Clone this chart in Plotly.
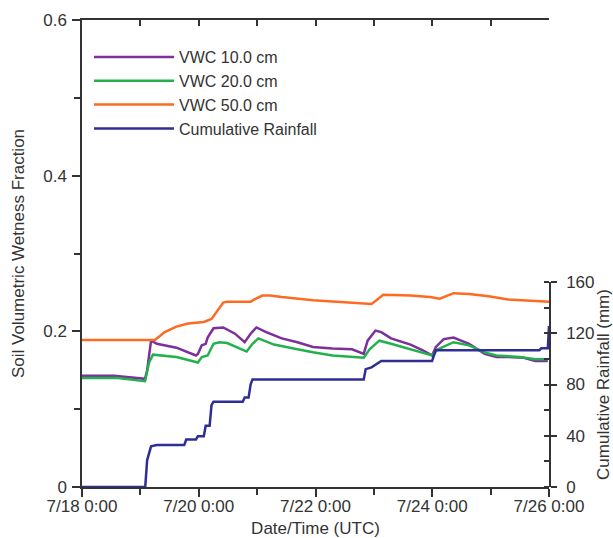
import pandas as pd
import plotly.graph_objects as go

START = "2019-07-18 00:00"

# days since 7/18 0:00 and values
vwc10_days = [0, 0.548, 1.08, 1.116, 1.183, 1.283, 1.618, 1.952, 1.985, 2.052, 2.119, 2.152, 2.253, 2.42, 2.62,
              2.787, 2.888, 2.988, 3.155, 3.422, 3.69, 3.957, 4.291, 4.626, 4.826, 4.893, 5.027, 5.127, 5.294,
              5.628, 5.829, 5.996, 6.063, 6.196, 6.364, 6.631, 6.898, 7.099, 7.3, 7.567, 7.767, 7.98]
vwc10_vals = [0.143, 0.143, 0.139, 0.150, 0.188, 0.184, 0.179, 0.169, 0.171, 0.182, 0.184, 0.192, 0.204, 0.205, 0.197,
              0.186, 0.197, 0.205, 0.199, 0.191, 0.186, 0.180, 0.178, 0.177, 0.171, 0.188, 0.201, 0.199, 0.191,
              0.183, 0.176, 0.169, 0.180, 0.190, 0.192, 0.184, 0.171, 0.167, 0.167, 0.166, 0.162, 0.162]

vwc20_days = [0, 0.615, 1.08, 1.15, 1.216, 1.618, 1.985, 2.052, 2.152, 2.253, 2.353, 2.487, 2.821, 2.921, 3.021,
              3.289, 3.69, 3.957, 4.291, 4.826, 4.926, 5.094, 5.294, 5.628, 5.996, 6.096, 6.364, 6.631, 6.898,
              7.099, 7.5, 7.767, 7.98]
vwc20_vals = [0.140, 0.140, 0.136, 0.160, 0.170, 0.167, 0.160, 0.167, 0.169, 0.184, 0.186, 0.185, 0.174, 0.184, 0.191,
              0.183, 0.177, 0.173, 0.169, 0.166, 0.177, 0.188, 0.184, 0.177, 0.169, 0.177, 0.186, 0.182, 0.173,
              0.169, 0.167, 0.164, 0.164]

vwc50_days = [0, 1.25, 1.417, 1.618, 1.818, 1.952, 2.086, 2.219, 2.32, 2.42, 2.487, 2.62, 2.888, 2.955, 3.088,
              3.222, 3.422, 3.957, 4.626, 4.96, 5.06, 5.16, 5.628, 5.963, 6.13, 6.23, 6.364, 6.631, 6.965,
              7.3, 7.634, 8.0]
vwc50_vals = [0.189, 0.189, 0.199, 0.206, 0.210, 0.211, 0.212, 0.216, 0.226, 0.237, 0.238, 0.238, 0.238, 0.241, 0.246,
              0.246, 0.244, 0.240, 0.237, 0.235, 0.241, 0.247, 0.246, 0.244, 0.242, 0.245, 0.249, 0.248, 0.245,
              0.241, 0.240, 0.238]

rain_days = [0, 1.083, 1.116, 1.183, 1.283, 1.752, 1.785, 1.952, 1.985, 2.086, 2.119, 2.186, 2.219, 2.253, 2.754,
             2.787, 2.854, 2.888, 2.921, 4.826, 4.86, 4.96, 5.127, 5.996, 6.03, 6.063, 7.834, 7.867, 7.98, 8.0]
rain_mm = [0, 0, 21, 31.7, 32.7, 32.7, 37, 37, 39.7, 39.7, 47.8, 47.8, 63.9, 66.6, 66.6,
           69.8, 69.8, 80, 84, 84, 92, 93.4, 98.3, 98.3, 102.8, 106.8, 106.8, 108.2, 108.2, 125.6]

series_names = ["VWC 10.0 cm", "VWC 20.0 cm", "VWC 50.0 cm", "Cumulative Rainfall"]
series_colors = ["#7d2f9c", "#22b14c", "#ff6a22", "#2e2e96"]

x_tick_days = [0, 2, 4, 6, 8]
left_ticks = [0, 0.2, 0.4, 0.6]
right_ticks = [0, 40, 80, 120, 160]


def to_time(days):
    return pd.Timestamp(START) + pd.to_timedelta(days, unit="D")


FONT = "Liberation Sans, Arial, sans-serif"
TXT = "#333333"
AX = "#333333"

fig = go.Figure()
for days, vals, name, color in zip([vwc10_days, vwc20_days, vwc50_days],
                                   [vwc10_vals, vwc20_vals, vwc50_vals],
                                   series_names[:3], series_colors[:3]):
    fig.add_trace(go.Scatter(x=to_time(days), y=vals, mode="lines", name=name,
                             line=dict(color=color, width=2.5), cliponaxis=False))
fig.add_trace(go.Scatter(x=to_time(rain_days), y=rain_mm, mode="lines", name=series_names[3],
                         line=dict(color=series_colors[3], width=2.5), yaxis="y2", cliponaxis=False))
# helper for top frame axis
fig.add_trace(go.Scatter(x=[], y=[], xaxis="x2", yaxis="y", showlegend=False, hoverinfo="skip"))

xr = [to_time(0), to_time(8)]
xt = [to_time(d) for d in x_tick_days]

fig.update_layout(
    width=613, height=538,
    margin=dict(l=82, r=64, t=20, b=51),
    paper_bgcolor="white", plot_bgcolor="rgba(0,0,0,0)",
    font=dict(family=FONT, size=17, color=TXT),
    showlegend=True,
    legend=dict(x=0.015, y=0.957, xanchor="left", yanchor="top", bgcolor="rgba(0,0,0,0)",
                font=dict(size=16, color=TXT), itemwidth=80, tracegroupgap=0),
    xaxis=dict(type="date", range=xr, tickvals=xt, tickformat="%-m/%-d %-H:%M",
               showgrid=False, zeroline=False, showline=True, linecolor=AX, linewidth=1.5,
               ticks="outside", ticklen=8, tickwidth=1.5, tickcolor=AX, ticklabelstandoff=-5,
               minor=dict(dtick=86400000, tick0=to_time(0), ticks="outside", ticklen=6,
                          tickwidth=1.5, tickcolor=AX, showgrid=False),
               title=dict(text="Date/Time (UTC)", standoff=10, font=dict(size=17)),
               automargin=False),
    xaxis2=dict(type="date", overlaying="x", side="top", range=xr, anchor="y",
                showgrid=False, zeroline=False, showline=True, linecolor=AX, linewidth=1.5,
                ticks="inside", ticklen=6, tickwidth=1.5, tickcolor=AX, dtick=86400000,
                tick0=to_time(0), showticklabels=False),
    yaxis=dict(range=[0, 0.6], tickvals=left_ticks, ticktext=["0", "0.2", "0.4", "0.6"],
               showgrid=False, zeroline=False, showline=True, linecolor=AX, linewidth=1.5,
               ticks="outside", ticklen=8, tickwidth=1.5, tickcolor=AX, ticklabelstandoff=2,
               minor=dict(dtick=0.1, ticks="outside", ticklen=6, tickwidth=1.5, tickcolor=AX,
                          showgrid=False),
               title=dict(text="Soil Volumetric Wetness Fraction", standoff=14, font=dict(size=17)),
               automargin=False),
    yaxis2=dict(range=[0, 160], domain=[0, 205 / 467], anchor="x", side="right",
                tickvals=right_ticks,
                showgrid=False, zeroline=False, showline=True, linecolor=AX, linewidth=1.5,
                ticks="outside", ticklen=6, tickwidth=1.5, tickcolor=AX, ticklabelstandoff=6,
                minor=dict(dtick=20, ticks="inside", ticklen=5, tickwidth=1.5, tickcolor=AX,
                           showgrid=False),
                title=dict(text="Cumulative Rainfall (mm)", standoff=6, font=dict(size=17)),
                automargin=False),
)

fig.write_html("out.html", config={"displayModeBar": False},
               post_script="document.body.style.margin='0';")
